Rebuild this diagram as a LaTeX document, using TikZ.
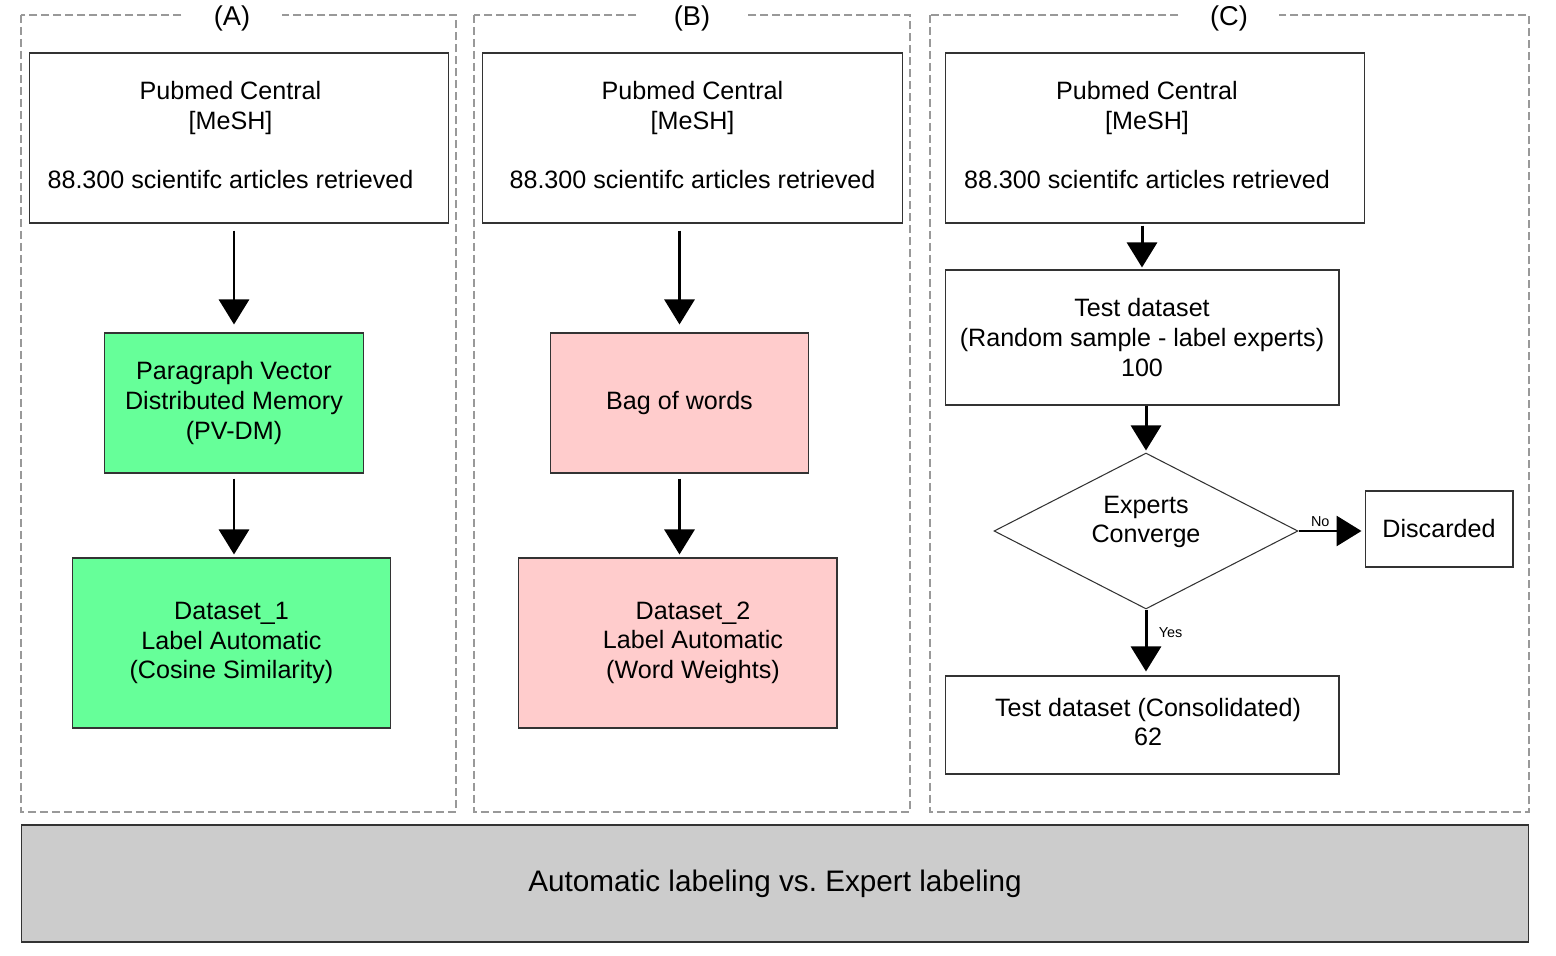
\documentclass[tikz,border=0pt]{standalone}
\usepackage{fontspec}
\setmainfont{Liberation Sans}
\usepackage{tikz}
\usetikzlibrary{arrows.meta,positioning,shapes.geometric}
\definecolor{pvgreen}{HTML}{66FF99}
\definecolor{bowpink}{HTML}{FFCCCC}
\definecolor{panelgray}{HTML}{999999}
\definecolor{bargray}{HTML}{CCCCCC}
\tikzset{
  panel/.style={draw=panelgray,line width=0.85pt,dash pattern=on 0.16cm off 0.08cm},
  header/.style={fill=white,minimum width=2cm,inner sep=0pt,font=\fontsize{15.5}{18}\selectfont},
  box/.style={draw=black!80,line width=0.6pt,fill=white,align=center,inner sep=0pt,
    font=\fontsize{14.3}{17}\selectfont},
  srcbox/.style={box,minimum width=8.4cm,minimum height=3.4cm},
  midbox/.style={box,minimum width=5.17cm,minimum height=2.8cm},
  outbox/.style={box,minimum width=6.38cm,minimum height=3.4cm},
  decision/.style={box,diamond,aspect=1.95,minimum width=6.08cm,minimum height=3.12cm},
  tag/.style={font=\fontsize{8.2}{10}\selectfont,inner sep=1.5pt},
  bar/.style={draw=black!80,line width=0.6pt,fill=bargray,minimum width=30.16cm,
    minimum height=2.34cm,font=\fontsize{16.9}{20}\selectfont}
}
\tikzstyle{flow} = [line width=1.7pt,-{Triangle[length=0.5cm,width=0.6cm]}]
% text block moved sideways inside its box (#1 = twice the shift)
\newcommand{\nudge}[2]{\hspace*{#1}\begin{tabular}{@{}c@{}}#2\end{tabular}}
\newcommand{\srctext}{Pubmed Central\\{}[MeSH]\\[17pt]88.300 scientifc articles retrieved}

\begin{document}
\begin{tikzpicture}[x=0.02cm,y=-0.02cm]
  \useasboundingbox (0,0) rectangle (1556,956);
  % panels
  \draw[panel] (21,15) rectangle (456,812);
  \draw[panel] (474,15) rectangle (910,812);
  \draw[panel] (930,15) rectangle (1529,812);
  \node[header] (hA) at (232,18) {(A)};
  \node[header,minimum width=2.1cm] (hB) at (692,18) {(B)};
  \node[header] (hC) at (1229,18) {(C)};

  % (A)
  \node[srcbox] (pubA) at (239,138) {\nudge{-0.34cm}{\srctext}};
  \node[midbox,fill=pvgreen] (pvdm) at (234,403) {Paragraph Vector\\Distributed Memory\\(PV-DM)};
  \node[outbox,fill=pvgreen] (ds1) at (231.5,643) {Dataset\_1\\Label Automatic\\(Cosine Similarity)};
  \draw[flow,shorten <=0.14cm,shorten >=0.16cm] (pubA.south -| pvdm.north) -- (pvdm.north);
  \draw[flow,shorten <=0.1cm,shorten >=0.06cm] (pvdm.south) -- (pvdm.south |- ds1.north);

  % (B)
  \node[srcbox] (pubB) at (692.5,138) {\nudge{0cm}{\srctext}};
  \node[midbox,fill=bowpink] (bow) at (679.5,403) {Bag of words};
  \node[outbox,fill=bowpink] (ds2) at (677.5,643) {\nudge{0.62cm}{Dataset\_2\\Label Automatic\\(Word Weights)}};
  \draw[flow,shorten <=0.14cm,shorten >=0.16cm] (pubB.south -| bow.north) -- (bow.north);
  \draw[flow,shorten <=0.1cm,shorten >=0.06cm] (bow.south) -- (bow.south |- ds2.north);

  % (C)
  \node[srcbox] (pubC) at (1155,138) {\nudge{-0.32cm}{\srctext}};
  \node[box,minimum width=7.88cm,minimum height=2.7cm] (test) at (1142,337.5)
    {Test dataset\\(Random sample - label experts)\\100};
  \node[decision] (dia) at (1146,531) {\nudge{0cm}{Experts\\Converge\\[0.36cm]}};
  \node[box,minimum width=2.96cm,minimum height=1.52cm] (disc) at (1439,529) {Discarded};
  \node[box,minimum width=7.88cm,minimum height=1.96cm] (cons) at (1142,725)
    {\nudge{0.24cm}{Test dataset (Consolidated)\\62}};
  \draw[flow,shorten <=0.04cm,shorten >=0.04cm] (pubC.south -| test.north) -- (test.north);
  \draw[flow,shorten >=0.04cm] (test.south -| dia.north) -- (dia.north);
  \draw[flow,shorten >=0.06cm] (dia.east) -- (dia.east -| disc.west)
    node[tag,pos=0.33,above] {No};
  \draw[flow,shorten >=0.08cm] (dia.south) -- (dia.south |- cons.north)
    node[tag,pos=0.35,right=5pt] {Yes};

  % summary
  \node[bar] (summary) at (775,883.5) {Automatic labeling vs.\ Expert labeling};
\end{tikzpicture}
\end{document}
